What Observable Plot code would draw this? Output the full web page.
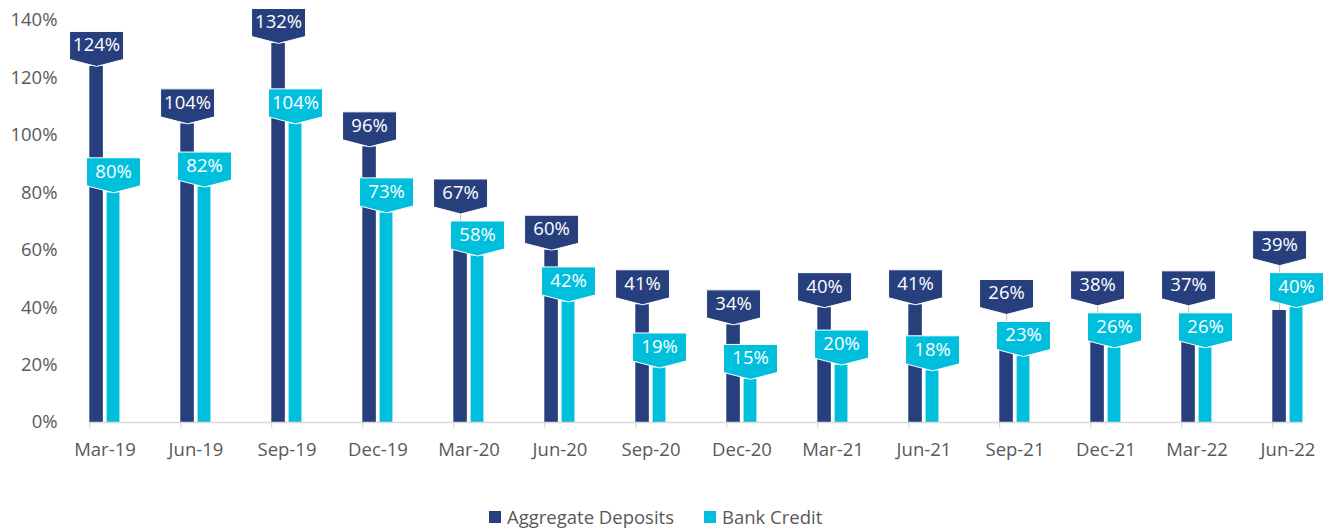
<!DOCTYPE html>
<html>
<head>
<meta charset="utf-8">
<script src="https://cdn.jsdelivr.net/npm/d3@7"></script>
<script src="https://cdn.jsdelivr.net/npm/@observablehq/plot@0.6"></script>
<style>
  body { margin: 0; background: #ffffff; }
  #wrap { position: relative; width: 1330px; height: 532px; font-family: "Open Sans", sans-serif; }
  #legend { position: absolute; left: 489px; top: 504px; display: flex; align-items: center; font-size: 18.5px; color: #595959; white-space: nowrap; }
  #legend .sw { display: inline-block; width: 12px; height: 12px; margin-right: 6px; }
  #legend .item { display: flex; align-items: center; margin-right: 30px; }
</style>
</head>
<body>
<div id="wrap">
  <div id="chart"></div>
  <div id="legend"></div>
</div>
<script>
const categories = ["Mar-19","Jun-19","Sep-19","Dec-19","Mar-20","Jun-20","Sep-20","Dec-20","Mar-21","Jun-21","Sep-21","Dec-21","Mar-22","Jun-22"];
const depositValues = [124, 104, 132, 96, 67, 60, 41, 34, 40, 41, 26, 38, 37, 39];
const creditValues  = [80, 82, 104, 73, 58, 42, 19, 15, 20, 18, 23, 26, 26, 40];
const yTicks = [0, 20, 40, 60, 80, 100, 120, 140];
const seriesNames = ["Aggregate Deposits", "Bank Credit"];
const seriesColors = ["#283f7e", "#00bfdd"];

const W = 1330, H = 490;
const yTop = 20, yBottom = 422;
const xRange = [57.7, 1333.8];
const step = (xRange[1] - xRange[0]) / categories.length;
const pxPerUnit = (yBottom - yTop) / 140;
const liftGap = 42 / pxPerUnit;
const FS = 18.5;

const rows = categories.map((c, i) => ({
  cat: c,
  dep: depositValues[i],
  cred: creditValues[i],
  depLabel: Math.max(depositValues[i], creditValues[i] + liftGap)
}));
const lifted = rows.filter(d => d.depLabel > d.dep);

const callout = {
  draw(ctx) {
    ctx.moveTo(0, 0);
    ctx.lineTo(27, -7);
    ctx.lineTo(27, -35);
    ctx.lineTo(-27, -35);
    ctx.lineTo(-27, -7);
    ctx.closePath();
  }
};

const darkOff = (30.3 + 44) / 2 - step / 2;
const cyanOff = (47.6 + 60.6) / 2 - step / 2;

const chart = Plot.plot({
  width: W,
  height: H,
  marginTop: yTop,
  marginBottom: H - yBottom,
  marginLeft: 62,
  marginRight: 0,
  style: { fontFamily: "'Open Sans', sans-serif", fontSize: FS + "px", color: "#595959", background: "#ffffff" },
  x: { type: "band", domain: categories, range: xRange, padding: 0 },
  y: { domain: [0, 140], range: [yBottom, yTop] },
  marks: [
    Plot.barY(rows, { x: "cat", y: "dep", fill: seriesColors[0], insetLeft: 30.3, insetRight: step - 44 }),
    Plot.barY(rows, { x: "cat", y: "cred", fill: seriesColors[1], insetLeft: 47.6, insetRight: step - 60.6 }),
    Plot.ruleY([0], { x1: () => categories[0], x2: () => categories[categories.length - 1], insetLeft: 30.3, insetRight: step - 60.6, stroke: "#d9d9d9", strokeWidth: 1.5 }),
    Plot.ruleX(rows, { x: "cat", y1: 0, y2: -6 / pxPerUnit, dx: -15.3, stroke: "#d9d9d9", strokeWidth: 1.2 }),
    Plot.axisX({ tickSize: 0, tickPadding: 20, fontSize: FS, label: null }),
    Plot.axisY(yTicks, { tickSize: 0, tickPadding: 5, fontSize: FS, tickFormat: d => d + "%", label: null }),
    Plot.ruleX(lifted, { x: "cat", y1: "dep", y2: "depLabel", dx: darkOff, stroke: "#bfbfbf", strokeWidth: 1 }),
    Plot.dot(rows, { x: "cat", y: "depLabel", dx: darkOff, symbol: callout, r: 5, fill: seriesColors[0], stroke: "#ffffff", strokeWidth: 1 }),
    Plot.text(rows, { x: "cat", y: "depLabel", dx: darkOff, dy: -21, text: d => d.dep + "%", fill: "#ffffff", fontSize: FS }),
    Plot.dot(rows, { x: "cat", y: "cred", dx: cyanOff, symbol: callout, r: 5, fill: seriesColors[1], stroke: "#ffffff", strokeWidth: 1 }),
    Plot.text(rows, { x: "cat", y: "cred", dx: cyanOff, dy: -21, text: d => d.cred + "%", fill: "#ffffff", fontSize: FS })
  ]
});
document.getElementById("chart").appendChild(chart);

const legend = document.getElementById("legend");
seriesNames.forEach((name, i) => {
  const item = document.createElement("div");
  item.className = "item";
  const sw = document.createElement("span");
  sw.className = "sw";
  sw.style.background = seriesColors[i];
  const label = document.createElement("span");
  label.textContent = name;
  item.appendChild(sw);
  item.appendChild(label);
  legend.appendChild(item);
});
</script>
</body>
</html>
